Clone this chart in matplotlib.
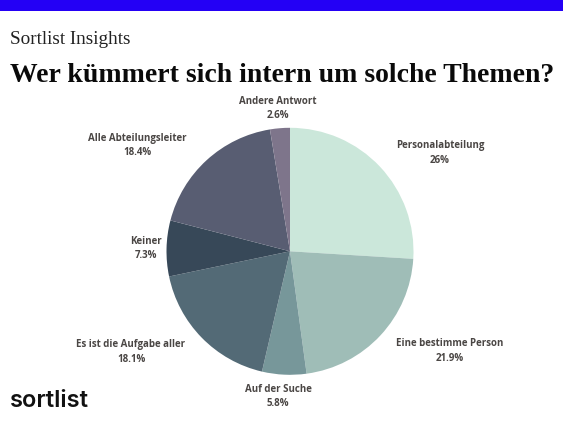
import matplotlib
matplotlib.use("Agg")
import matplotlib.pyplot as plt
from matplotlib.patches import Rectangle

categories = ["Personalabteilung", "Eine bestimme Person", "Auf der Suche",
              "Es ist die Aufgabe aller", "Keiner", "Alle Abteilungsleiter", "Andere Antwort"]
values = [26, 21.9, 5.8, 18.1, 7.3, 18.4, 2.6]
value_labels = ["26%", "21.9%", "5.8%", "18.1%", "7.3%", "18.4%", "2.6%"]
colors = ["#CBE7DA", "#9FBDB7", "#77979A", "#536A76", "#374858", "#585D72", "#7E758B"]
label_x = [440, 450, 278, 131, 146, 137.5, 278]
label_y = [153, 351, 396.5, 352, 248.5, 145.5, 108.5]

W, H = 563, 423
fig = plt.figure(figsize=(W / 100, H / 100), dpi=100, facecolor="white")
ax = fig.add_axes([0, 0, 1, 1])
ax.set_xlim(0, W)
ax.set_ylim(0, H)
ax.axis("off")

ax.add_patch(Rectangle((0, H - 10.5), W, 10.5, color="#2400F5", lw=0))

ax.text(10, H - 39.5, "Sortlist Insights", fontsize=13.8, family="Liberation Serif",
        color="#222222", va="center", ha="left")
ax.text(10, H - 75.5, "Wer kümmert sich intern um solche Themen?", fontsize=20.0,
        family="Liberation Serif", weight="bold", color="#0a0a0a", va="center", ha="left")

ax.pie(values, colors=colors, startangle=90, counterclock=False,
       center=(290, H - 251.3), radius=123.5, frame=False,
       wedgeprops={"linewidth": 0})
ax.set_xlim(0, W)
ax.set_ylim(0, H)
ax.set_aspect("auto")

for name, val, x, y in zip(categories, value_labels, label_x, label_y):
    ax.text(x, H - y, f"{name}\n{val}", fontsize=7.0, family="Open Sans", weight="bold",
            color="#4a4644", ha="center", va="center", linespacing=1.4)

ax.text(10, H - 400.5, "sortlist", fontsize=17.0, family="Inter", weight="semibold",
        color="#111111", ha="left", va="center")

fig.savefig("out.png", dpi=100)
